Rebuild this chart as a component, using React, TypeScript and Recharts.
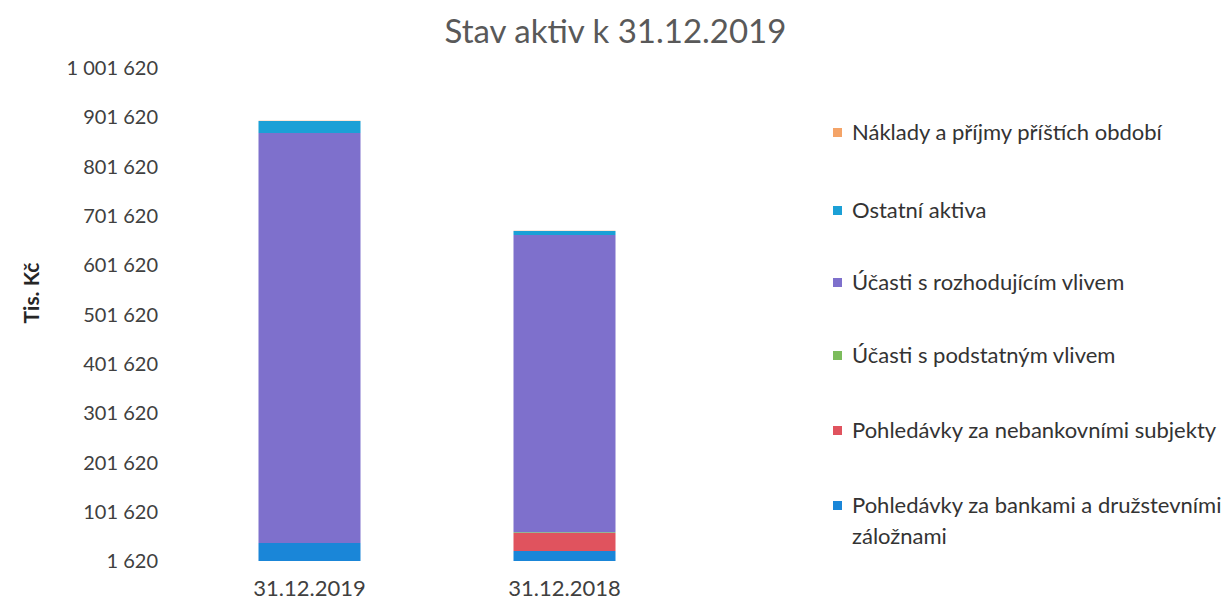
import React from 'react';
import { BarChart, Bar, XAxis, YAxis } from 'recharts';

const categories = ['31.12.2019', '31.12.2018'];
const pohledavkyBanky = [38100, 21900];
const pohledavkyNebank = [0, 36500];
const ucastiPodstatny = [0, 1500];
const ucastiRozhodujici = [831700, 603000];
const ostatniAktiva = [24300, 8100];
const naklady = [300, 300];
const yTicks = [1620, 101620, 201620, 301620, 401620, 501620, 601620, 701620, 801620, 901620, 1001620];

const seriesNames = [
  'Pohledávky za bankami a družstevními záložnami',
  'Pohledávky za nebankovními subjekty',
  'Účasti s podstatným vlivem',
  'Účasti s rozhodujícím vlivem',
  'Ostatní aktiva',
  'Náklady a příjmy příštích období',
];
const seriesColors = ['#1a86d8', '#e0535e', '#7cbc5c', '#7e70cc', '#1ba0d6', '#f4a468'];
const seriesKeys = ['banky', 'nebank', 'podstatny', 'rozhodujici', 'ostatni', 'naklady'];

const data = categories.map((c, i) => ({
  name: c,
  banky: pohledavkyBanky[i],
  nebank: pohledavkyNebank[i],
  podstatny: ucastiPodstatny[i],
  rozhodujici: ucastiRozhodujici[i],
  ostatni: ostatniAktiva[i],
  naklady: naklady[i],
}));

const fmt = (v: number) => String(v).replace(/\B(?=(\d{3})+(?!\d))/g, ' ');
const FONT = 'Lato, "Open Sans", sans-serif';

const legendItems = [
  { idx: 5, y: 132 },
  { idx: 4, y: 210 },
  { idx: 3, y: 282 },
  { idx: 2, y: 355 },
  { idx: 1, y: 430 },
  { idx: 0, y: 505 },
];

export default function App() {
  return (
    <div style={{ position: 'absolute', left: 0, top: 0, width: 1231, height: 600, background: '#fff', fontFamily: FONT }}>
      <div style={{ position: 'absolute', left: 0, width: 1231, top: 8, textAlign: 'center', fontSize: 33, color: '#595959', lineHeight: '44px' }}>
        Stav aktiv k 31.12.2019
      </div>
      <div style={{ position: 'absolute', left: 30, top: 293, transform: 'translate(-50%, -50%) rotate(-90deg)', fontSize: 21, fontWeight: 'bold', color: '#262626', whiteSpace: 'nowrap' }}>
        Tis. Kč
      </div>
      <BarChart width={1231} height={600} data={data} margin={{ top: 68, right: 539, bottom: 0, left: 0 }} barCategoryGap="30%">
        <XAxis dataKey="name" axisLine={false} tickLine={false} tickSize={0} tickMargin={19} height={39}
          tick={{ fill: '#404040', fontSize: 22, fontFamily: FONT }} />
        <YAxis type="number" domain={[1620, 1001620]} ticks={yTicks} allowDataOverflow axisLine={false} tickLine={false}
          tickSize={0} tickMargin={24} width={182} tickFormatter={fmt} interval={0}
          tick={{ fill: '#404040', fontSize: 20, fontFamily: FONT }} />
        {seriesKeys.map((k, i) => (
          <Bar key={k} dataKey={k} name={seriesNames[i]} stackId="a" fill={seriesColors[i]} isAnimationActive={false} />
        ))}
      </BarChart>
      {legendItems.map(({ idx, y }) => (
        <div key={idx} style={{ position: 'absolute', left: 833, top: y - 12, width: 398, fontSize: 22, color: '#333', lineHeight: '31px' }}>
          <span style={{ position: 'absolute', left: 0, top: 8, width: 9, height: 9, background: seriesColors[idx] }} />
          <span style={{ position: 'absolute', left: 19, top: -4, width: 380 }}>{seriesNames[idx]}</span>
        </div>
      ))}
    </div>
  );
}
